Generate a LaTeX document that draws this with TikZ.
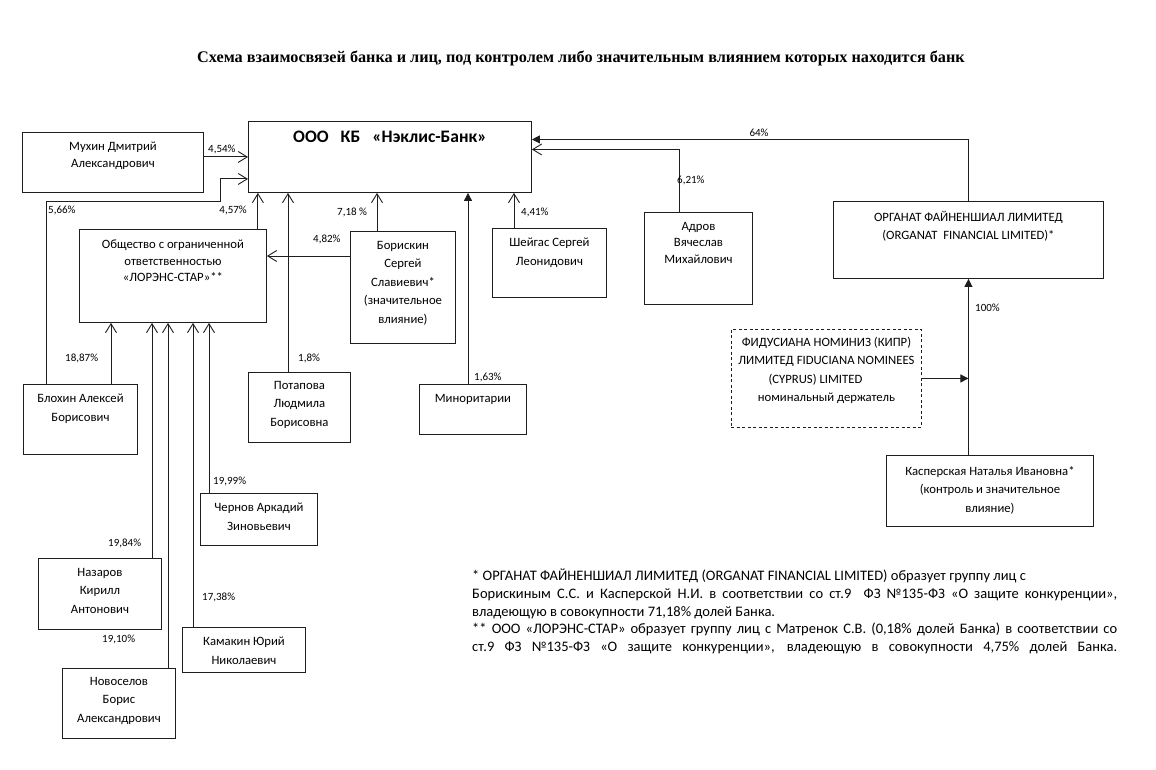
\documentclass[tikz,border=0pt]{standalone}
\usepackage{fontspec}
\setmainfont{Carlito}
\newfontfamily\titlefont{Liberation Serif}
\usetikzlibrary{arrows.meta,positioning}
\definecolor{linegray}{RGB}{30,30,30}
\newcommand{\boxfont}{\fontsize{12.7}{18.5}\selectfont}
\newcommand{\tightfont}{\fontsize{12.7}{16.5}\selectfont}
\newcommand{\pctfont}{\fontsize{11}{13}\selectfont}
\tikzset{>=Stealth}

\begin{document}
\begin{tikzpicture}[x=1pt,y=-1pt,
	box/.style 2 args={draw=linegray, line width=0.9pt, anchor=north west, inner sep=0pt, minimum width=#1, minimum height=#2},
	txt/.style={font=\boxfont, align=center, inner sep=0pt, anchor=north},
	pct/.style={font=\pctfont, inner sep=0pt},
	conn/.style={draw=linegray, line width=0.9pt},
	openarrow/.style={conn, -{Straight Barb[length=9pt,width=11pt,line width=0.9pt]}},
	fullarrow/.style={conn, -{Triangle[length=8pt,width=8pt]}}]
	\useasboundingbox (0,0) rectangle (1156,770);

	\node[font=\titlefont\bfseries\fontsize{16.2}{18}\selectfont] (title) at (581,58) {Схема взаимосвязей банка и лиц, под контролем либо значительным влиянием которых находится банк};

	% boxes
	\node[box={283pt}{71pt}] (bank) at (248,121) {};
	\node[txt, font=\bfseries\fontsize{17.5}{18}\selectfont, below=10pt of bank.north] {ООО\hspace{12pt}КБ\hspace{12pt}«Нэклис-Банк»};
	\node[box={181pt}{60pt}] (mukhin) at (22,132) {};
	\node[txt, font=\tightfont, below=10pt of mukhin.north] {Мухин Дмитрий\\Александрович};
	\node[box={187pt}{93pt}] (lorens) at (79,229) {};
	\node[txt, font=\tightfont, below=11pt of lorens.north] {Общество с ограниченной\\ответственностью\\«ЛОРЭНС-СТАР»**};
	\node[box={105pt}{112pt}] (boriskin) at (350,231) {};
	\node[txt, below=10pt of boriskin.north] {Борискин\\Сергей\\Славиевич*\\(значительное\\влияние)};
	\node[box={114pt}{69pt}] (sheigas) at (492,228) {};
	\node[txt, below=10pt of sheigas.north] {Шейгас Сергей\\Леонидович};
	\node[box={108pt}{92pt}] (adrov) at (644,212) {};
	\node[txt, font=\tightfont, below=10pt of adrov.north] {Адров\\Вячеслав\\Михайлович};
	\node[box={270pt}{77pt}] (organat) at (833,201) {};
	\node[txt, below=10pt of organat.north] {ОРГАНАТ ФАЙНЕНШИАЛ ЛИМИТЕД\\(ORGANAT\ \ FINANCIAL LIMITED)*};
	\node[box={190pt}{98pt}, dash pattern=on 3pt off 2.5pt] (fid) at (731,329) {};
	\node[txt, below=8pt of fid.north] {ФИДУСИАНА НОМИНИЗ (КИПР)\\ЛИМИТЕД FIDUCIANA NOMINEES\\(CYPRUS) LIMITED\hspace*{22pt}\null\\номинальный держатель};
	\node[box={207pt}{71pt}] (kasper) at (886,455) {};
	\node[txt, below=11pt of kasper.north] {Касперская Наталья Ивановна*\\(контроль и значительное\\влияние)};
	\node[box={114pt}{70pt}] (blokhin) at (23,384) {};
	\node[txt, below=10pt of blokhin.north] {Блохин Алексей\\Борисович};
	\node[box={102pt}{70pt}] (potapova) at (248,372) {};
	\node[txt, below=9pt of potapova.north] {Потапова\\Людмила\\Борисовна};
	\node[box={107pt}{50pt}] (minor) at (419,384) {};
	\node[txt, below=10pt of minor.north] {Миноритарии};
	\node[box={117pt}{52pt}] (chernov) at (200,493) {};
	\node[txt, below=10pt of chernov.north] {Чернов Аркадий\\Зиновьевич};
	\node[box={123pt}{71pt}] (nazarov) at (38,558) {};
	\node[txt, below=10pt of nazarov.north] {Назаров\\Кирилл\\Антонович};
	\node[box={123pt}{45pt}] (kamakin) at (182,627) {};
	\node[txt, below=10pt of kamakin.north] {Камакин Юрий\\Николаевич};
	\node[box={113pt}{70pt}] (novoselov) at (62,668) {};
	\node[txt, below=9pt of novoselov.north] {Новоселов\\Борис\\Александрович};

	% links to the bank
	\coordinate (bend) at (220,201);
	\coordinate (bor port) at ([yshift=-25pt]boriskin.north west);
	\draw[openarrow] (mukhin.east |- bank.west) -- (bank.west);
	\draw[openarrow] ([xshift=23pt]blokhin.north west) |- (bend) |- ([yshift=-22pt]bank.west);
	\draw[openarrow] ([xshift=-9pt]lorens.north east) -- ([xshift=-9pt]lorens.north east |- bank.south);
	\draw[openarrow] ([xshift=40pt]potapova.north west) -- ([xshift=40pt]potapova.north west |- bank.south);
	\draw[openarrow] ([xshift=27pt]boriskin.north west) -- ([xshift=27pt]boriskin.north west |- bank.south);
	\draw[fullarrow] ([xshift=49pt]minor.north west) -- ([xshift=49pt]minor.north west |- bank.south);
	\draw[openarrow] ([xshift=22pt]sheigas.north west) -- ([xshift=22pt]sheigas.north west |- bank.south);
	\draw[fullarrow] (organat.north) |- ([yshift=17.5pt]bank.east);
	\draw[openarrow] ([xshift=35pt]adrov.north west) |- ([yshift=7.5pt]bank.east);
	\draw[openarrow] (bor port) -- (lorens.east |- bor port);

	% links to the other owners
	\draw[fullarrow] (kasper.north -| organat.south) -- (organat.south);
	\draw[fullarrow] (fid.east) -- (fid.east -| organat.south);
	\draw[openarrow] ([xshift=88pt]blokhin.north west) -- ([xshift=88pt]blokhin.north west |- lorens.south);
	\draw[openarrow] ([xshift=114pt]nazarov.north west) -- ([xshift=114pt]nazarov.north west |- lorens.south);
	\draw[openarrow] ([xshift=106pt]novoselov.north west) -- ([xshift=106pt]novoselov.north west |- lorens.south);
	\draw[openarrow] ([xshift=11pt]kamakin.north west) -- ([xshift=11pt]kamakin.north west |- lorens.south);
	\draw[openarrow] ([xshift=9pt]chernov.north west) -- ([xshift=9pt]chernov.north west |- lorens.south);

	% shares
	\node[pct, anchor=west] at (208,149) {4,54\%};
	\node[pct, anchor=west] at (48,210) {5,66\%};
	\node[pct, anchor=east] at (247,210) {4,57\%};
	\node[pct, anchor=west] at (337,212) {7,18 \%};
	\node[pct, anchor=west] at (521,212) {4,41\%};
	\node[pct] at (759,133) {64\%};
	\node[pct, anchor=west] at (677,180) {6,21\%};
	\node[pct, anchor=west] at (313,239) {4,82\%};
	\node[pct, anchor=west] at (65,358) {18,87\%};
	\node[pct, anchor=west] at (298,358) {1,8\%};
	\node[pct, anchor=west] at (474,377) {1,63\%};
	\node[pct, anchor=west] at (975,308) {100\%};
	\node[pct, anchor=west] at (213,481) {19,99\%};
	\node[pct, anchor=west] at (108,543) {19,84\%};
	\node[pct, anchor=west] at (102,639) {19,10\%};
	\node[pct, anchor=west] at (202,597) {17,38\%};

	% notes
	\node[anchor=north west, inner sep=0pt, text width=645pt, align=justify, font=\fontsize{14.5}{17.6}\selectfont] (notes) at (472,569) {\tolerance=10000
		* ОРГАНАТ ФАЙНЕНШИАЛ ЛИМИТЕД (ORGANAT FINANCIAL LIMITED) образует группу лиц с\newline
		Борискиным С.С. и Касперской Н.И. в соответствии со ст.9\ \ ФЗ №135-ФЗ «О защите конкуренции»,\linebreak
		владеющую в совокупности 71,18\% долей Банка.\newline
		** ООО «ЛОРЭНС-СТАР» образует группу лиц с Матренок С.В. (0,18\% долей Банка) в соответствии со\linebreak
		ст.9 ФЗ №135-ФЗ «О защите конкуренции», владеющую в совокупности 4,75\% долей Банка.\parfillskip=0pt\par};
\end{tikzpicture}
\end{document}
